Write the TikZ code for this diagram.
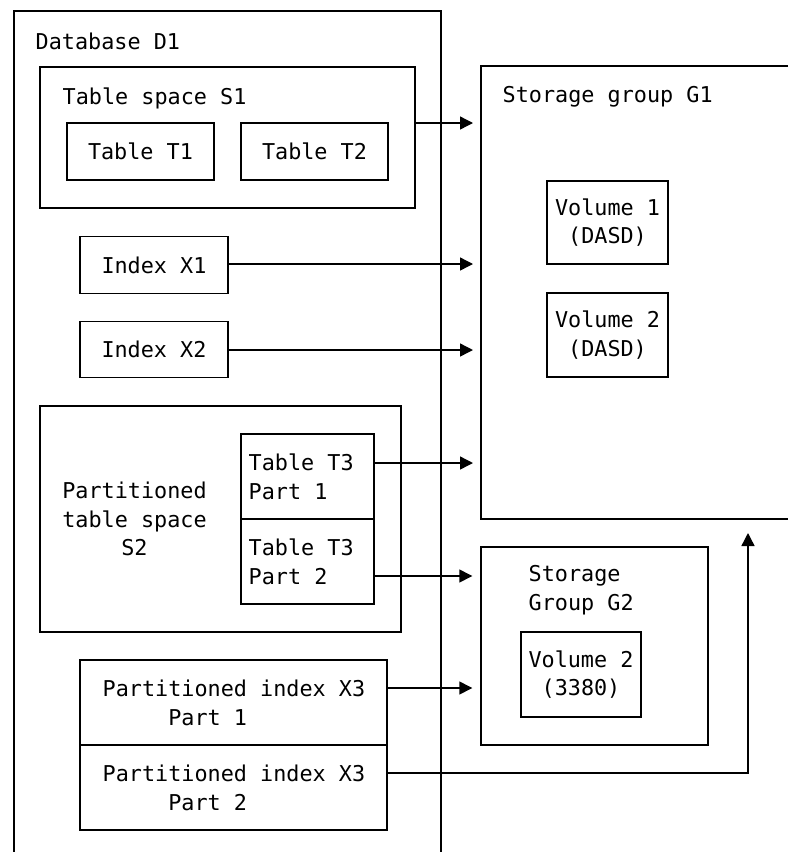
\documentclass[tikz,border=0pt]{standalone}
\usepackage{fontspec}
\setmainfont{DejaVu Sans Mono}
\usetikzlibrary{arrows.meta}
\begin{document}
\begin{tikzpicture}[x=1pt,y=-1pt,
  line width=1.4pt,
  box/.style={draw, inner sep=0pt, line width=1.4pt, font=\fontsize{21.8}{28.5}\selectfont, align=center},
  lbl/.style={inner sep=0pt, font=\fontsize{21.8}{28.5}\selectfont},
  arr/.style={-{Triangle[length=13pt,width=13pt]}, line width=1.4pt, shorten >=8pt}
]
\useasboundingbox (0,0) rectangle (788,852);

% Database D1 (open at bottom)
\coordinate (d1bl) at (14,852);
\coordinate (d1tl) at (14,11);
\coordinate (d1tr) at (441,11);
\coordinate (d1br) at (441,852);
\draw (d1bl) -- (d1tl) -- (d1tr) -- (d1br);
\node[lbl, anchor=west] (d1lbl) at (35,41) {Database D1};

% Table space S1
\node[box, minimum width=375pt, minimum height=141pt] (S1) at (227.5,137.5) {};
\node[lbl, anchor=west] (s1lbl) at (62,98) {Table space S1};
\node[box, minimum width=147pt, minimum height=57pt] (T1) at (140.5,151.5) {Table T1};
\node[box, minimum width=147pt, minimum height=57pt] (T2) at (314.5,151.5) {Table T2};

% Indexes
\node[box, minimum width=148pt, minimum height=57pt] (X1) at (154,265) {Index X1};
\node[box, minimum width=148pt, minimum height=56pt] (X2) at (154,349.5) {Index X2};

% Partitioned table space S2
\node[box, minimum width=361pt, minimum height=226pt] (S2) at (220.5,519) {};
\node[lbl, align=center] (s2lbl) at (134.5,519) {Partitioned\\table space\\S2};
\node[box, minimum width=133pt, minimum height=85pt] (T3a) at (307.5,476.5) {};
\node[box, minimum width=133pt, minimum height=85pt] (T3b) at (307.5,561.5) {};
\node[lbl, align=left, anchor=west] (t3albl) at (248,477) {Table T3\\Part 1};
\node[lbl, align=left, anchor=west] (t3blbl) at (248,562) {Table T3\\Part 2};

% Partitioned index X3
\node[box, minimum width=307pt, minimum height=85pt] (X3a) at (233.5,702.5) {};
\node[box, minimum width=307pt, minimum height=85pt] (X3b) at (233.5,787.5) {};
\node[lbl, align=left, anchor=west] (x3albl) at (102,703) {Partitioned index X3\\\phantom{Parti}Part 1};
\node[lbl, align=left, anchor=west] (x3blbl) at (102,788) {Partitioned index X3\\\phantom{Parti}Part 2};

% Storage group G1 (open at right)
\coordinate (g1tr) at (788,66);
\coordinate (g1tl) at (481,66);
\coordinate (g1bl) at (481,519);
\coordinate (g1br) at (788,519);
\draw (g1tr) -- (g1tl) -- (g1bl) -- (g1br);
\node[lbl, anchor=west] (g1lbl) at (502,97) {Storage group G1};
\node[box, minimum width=121pt, minimum height=83pt] (V1) at (607.5,222.5) {Volume 1\\(DASD)};
\node[box, minimum width=121pt, minimum height=84pt] (V2) at (607.5,335) {Volume 2\\(DASD)};

% Storage group G2
\node[box, minimum width=227pt, minimum height=198pt] (G2) at (594.5,646) {};
\node[lbl, align=left, anchor=west] (g2lbl) at (528,590) {Storage\\Group G2};
\node[box, minimum width=120pt, minimum height=85pt] (V3) at (581,674.5) {Volume 2\\(3380)};

% Connectors
\coordinate (g1up) at (748,519);
\draw[arr] ([yshift=14.5pt]S1.east) -- ([yshift=14.5pt]S1.east -| g1tl);
\draw[arr] ([yshift=1pt]X1.east) -- ([yshift=1pt]X1.east -| g1tl);
\draw[arr] ([yshift=-0.5pt]X2.east) -- ([yshift=-0.5pt]X2.east -| g1tl);
\draw[arr] ([yshift=13.5pt]T3a.east) -- ([yshift=13.5pt]T3a.east -| g1tl);
\draw[arr] ([yshift=-14.5pt]T3b.east) -- ([yshift=-14.5pt]T3b.east -| G2.west);
\draw[arr] ([yshift=14.5pt]X3a.east) -- ([yshift=14.5pt]X3a.east -| G2.west);
\draw[arr, shorten >=14pt] ([yshift=14.5pt]X3b.east) -| (g1up);
\end{tikzpicture}
\end{document}
